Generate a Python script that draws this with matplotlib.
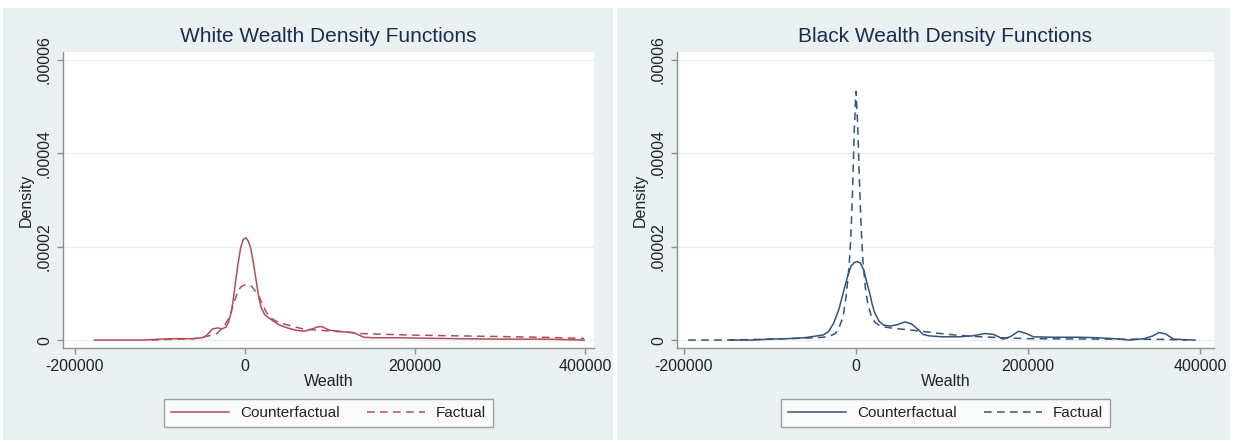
import numpy as np
import matplotlib
matplotlib.use('Agg')
import matplotlib.pyplot as plt
from matplotlib.patches import Rectangle

plt.rcParams['font.family'] = ['Liberation Sans', 'DejaVu Sans']

# values, density in units of 1e-6
white_cf_x = [-177000, -120000, -100000, -80000, -60000, -50000, -45000, -38000, -32000, -27000,
              -22000, -19000, -16000, -13500, -11000, -8000, -5000, -2000, 1000, 4000,
              7000, 10000, 13000, 16000, 19000, 23000, 30000, 41000, 50000, 60000,
              70000, 78000, 85000, 90000, 95000, 100000, 115000, 128000, 135000, 140000,
              150000, 180000, 210000, 250000, 300000, 350000, 399000]
white_cf_y = [0.0, 0.0, 0.2, 0.3, 0.3, 0.5, 1.0, 2.4, 2.6, 2.4,
              2.8, 4.0, 6.0, 9.0, 12.5, 16.5, 19.8, 21.5, 21.9, 21.2,
              19.5, 16.5, 13.0, 9.5, 7.0, 5.5, 4.5, 3.2, 2.6, 2.1,
              1.9, 2.3, 2.8, 2.9, 2.5, 2.1, 1.8, 1.6, 1.0, 0.6,
              0.5, 0.5, 0.4, 0.3, 0.2, 0.2, 0.0]

white_f_x = [-110000, -80000, -60000, -50000, -40000, -33000, -25000, -18000, -12000, -8000,
             -4000, 0, 4000, 8000, 12000, 16000, 20000, 25000, 30000, 37000,
             45000, 55000, 68000, 80000, 95000, 110000, 125000, 135000, 150000, 200000,
             250000, 300000, 350000, 399000]
white_f_y = [0.0, 0.2, 0.3, 0.6, 1.0, 1.4, 2.8, 5.0, 8.5, 10.6,
             11.5, 11.8, 11.8, 11.5, 10.5, 9.5, 8.0, 6.0, 4.8, 4.0,
             3.5, 3.0, 2.4, 2.2, 2.0, 1.8, 1.6, 1.4, 1.3, 1.05,
             0.9, 0.75, 0.6, 0.35]

black_cf_x = [-147000, -120000, -100000, -80000, -60000, -45000, -38000, -32000, -26000, -20000,
              -15000, -10000, -6000, -2000, 1500, 5000, 9000, 13000, 16000, 19000,
              22000, 27000, 32000, 40000, 48000, 57000, 65000, 72000, 78000, 85000,
              100000, 120000, 135000, 150000, 160000, 171000, 180000, 189000, 198000, 206000,
              230000, 260000, 280000, 300000, 318000, 335000, 345000, 352000, 360000, 369000,
              380000, 394000]
black_cf_y = [0.0, 0.0, 0.2, 0.3, 0.5, 0.9, 1.1, 1.8, 3.6, 6.5,
              10.0, 13.5, 15.8, 16.6, 16.8, 16.5, 15.0, 12.0, 10.0, 7.5,
              5.7, 4.0, 3.2, 3.0, 3.3, 3.9, 3.4, 2.3, 1.2, 0.9,
              0.7, 0.7, 0.9, 1.4, 1.2, 0.2, 0.8, 1.9, 1.4, 0.7,
              0.6, 0.6, 0.5, 0.3, 0.0, 0.3, 0.9, 1.6, 1.3, 0.2,
              0.1, 0.0]

black_f_x = [-195000, -150000, -100000, -60000, -38000, -30000, -24000, -20000, -15000, -11000,
             -8000, -6000, -4000, -2000, 0, 2000, 4000, 6000, 8000, 11000,
             14000, 18000, 22000, 28000, 40000, 55000, 66000, 80000, 98000, 120000,
             145000, 170000, 200000, 250000, 300000, 357000, 385000]
black_f_y = [0.0, 0.0, 0.2, 0.4, 0.6, 0.9, 1.4, 2.5, 5.0, 10.0,
             16.0, 22.0, 32.0, 45.0, 53.3, 46.0, 34.0, 24.0, 17.0, 11.0,
             7.5, 5.0, 3.8, 3.0, 2.6, 2.3, 2.1, 1.8, 1.4, 1.0,
             0.7, 0.5, 0.3, 0.25, 0.2, 0.15, 0.0]

x_ticks = [-200000, 0, 200000, 400000]
y_ticks = [0, 0.00002, 0.00004, 0.00006]
y_tick_labels = ['0', '.00002', '.00004', '.00006']

W, H = 1233, 443
bg = '#eaf1f2'
title_col = '#1c2a4f'
spine_col = '#8f8f8f'

fig = plt.figure(figsize=(W / 100, H / 100), dpi=100)
fig.patch.set_facecolor('white')


def px_box(x0, y0, x1, y1):
    # pixel box (top-left origin) -> figure fraction
    return [x0 / W, 1 - y1 / H, (x1 - x0) / W, (y1 - y0) / H]


def panel(box, ax_box, title, xs_cf, ys_cf, xs_f, ys_f, col, xlim):
    b = px_box(*box)
    fig.add_artist(Rectangle((b[0], b[1]), b[2], b[3], transform=fig.transFigure,
                             facecolor=bg, edgecolor='none', zorder=-10))
    ax = fig.add_axes(px_box(*ax_box))
    ax.set_facecolor('white')
    l1, = ax.plot(xs_cf, np.array(ys_cf) * 1e-6, color=col, lw=1.1, label='Counterfactual')
    l2, = ax.plot(xs_f, np.array(ys_f) * 1e-6, color=col, lw=1.1, dashes=(5, 3.5), label='Factual')
    ax.set_xlim(*xlim)
    ax.set_ylim(-1.7e-6, 6.17e-5)
    ax.set_xticks(x_ticks)
    ax.set_xticklabels([str(v) for v in x_ticks])
    ax.set_yticks(y_ticks)
    ax.set_yticklabels(y_tick_labels, rotation=90, va='center')
    ax.grid(axis='y', color='#e9eef0', lw=1.0)
    ax.set_axisbelow(True)
    for s in ['top', 'right']:
        ax.spines[s].set_visible(False)
    for s in ['left', 'bottom']:
        ax.spines[s].set_color(spine_col)
        ax.spines[s].set_linewidth(1.0)
    ax.tick_params(length=4.5, width=1.0, color=spine_col, labelsize=11.5, labelcolor='#222222', pad=3.5)
    ax.set_xlabel('Wealth', fontsize=11.5, color='#222222', labelpad=0)
    ax.set_ylabel('Density', fontsize=11.5, color='#222222', labelpad=2)
    ax.text(0.5, 1 + 16 / 296, title, transform=ax.transAxes, ha='center', va='center',
            fontsize=15, color=title_col)
    cx = (ax_box[0] + ax_box[2]) / 2
    leg = ax.legend(handles=[l1, l2], loc='upper center', bbox_to_anchor=(cx / W, 1 - 399 / H),
                    bbox_transform=fig.transFigure, ncol=2, fontsize=11, frameon=True,
                    fancybox=False, edgecolor='#8a8a8a', handlelength=3.8, columnspacing=1.8,
                    handletextpad=0.7, borderpad=0.45, borderaxespad=0)
    leg.get_frame().set_linewidth(1.0)
    for t in leg.get_texts():
        t.set_color('#222222')
    return ax


panel((3, 8, 613, 440), (63, 52, 594, 348), 'White Wealth Density Functions',
      white_cf_x, white_cf_y, white_f_x, white_f_y, '#b24c57', (-214000, 410600))
panel((617, 8, 1230, 440), (677, 52, 1214, 348), 'Black Wealth Density Functions',
      black_cf_x, black_cf_y, black_f_x, black_f_y, '#34527a', (-208000, 416000))

fig.savefig('out.png', dpi=100, facecolor='white')
